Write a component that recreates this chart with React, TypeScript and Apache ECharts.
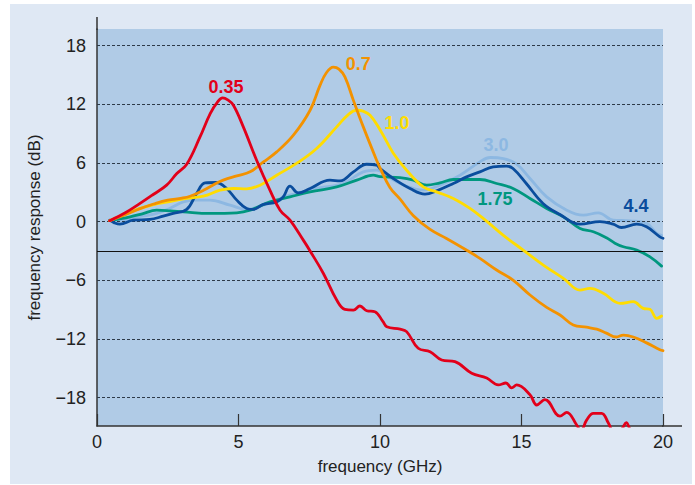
import React, { useEffect, useRef } from "react";
import * as echarts from "echarts";

// frequency (GHz), response (dB) pairs
const curve035: number[][] = [
  [0.45, 0.1], [1.0, 0.9], [1.52, 1.86], [2.0, 2.8], [2.46, 3.73], [2.82, 4.92], [3.17, 5.87],
  [3.64, 8.66], [4.0, 11.05], [4.25, 12.2], [4.44, 12.65], [4.62, 12.45], [4.82, 11.9], [5.17, 9.69],
  [5.64, 6.28], [6.11, 3.22], [6.47, 1.17], [6.82, 0.15], [7.29, -1.89], [7.53, -3.0], [8.0, -5.3],
  [8.47, -8.02], [8.76, -8.97], [9.06, -9.04], [9.29, -8.63], [9.53, -9.11], [9.82, -9.21],
  [10.1, -10.2], [10.24, -10.75], [10.71, -11.0], [10.94, -11.25], [11.35, -12.95], [11.77, -13.3],
  [12.18, -14.15], [12.65, -14.32], [13.24, -15.5], [13.77, -16.0], [14.18, -16.7], [14.45, -16.5],
  [14.65, -17.0], [14.83, -16.7], [15.3, -17.7], [15.54, -18.75], [15.83, -18.2], [16.36, -19.9],
  [16.6, -19.5], [16.95, -20.8], [17.1, -21.4], [17.3, -20.3], [17.54, -19.6], [17.83, -19.6],
  [18.07, -20.6], [18.3, -21.8], [18.55, -21.2], [18.7, -20.55], [18.85, -21.3], [19.2, -22.5],
  [20.0, -23.0],
];
const curve07: number[][] = [
  [0.45, 0.1], [1.0, 0.7], [1.5, 1.3], [2.0, 1.8], [2.5, 2.2], [3.0, 2.4], [3.29, 2.6], [3.76, 3.2],
  [4.2, 3.9], [4.46, 4.24], [4.94, 4.68], [5.41, 5.09], [5.88, 6.1], [6.35, 7.13], [6.94, 8.84],
  [7.53, 11.39], [7.88, 13.94], [8.1, 15.2], [8.35, 15.8], [8.55, 15.6], [8.76, 14.8], [9.06, 12.4],
  [9.41, 9.69], [9.88, 6.28], [10.0, 5.5], [10.35, 3.5], [10.71, 2.3], [11.18, 0.6], [11.77, -0.8],
  [12.35, -1.72], [13.05, -2.9], [13.53, -3.76], [14.12, -4.95], [14.7, -5.98], [15.3, -7.5],
  [15.89, -8.77], [16.36, -9.55], [16.83, -10.57], [17.3, -10.8], [17.66, -11.0], [18.0, -11.4],
  [18.35, -11.8], [18.6, -11.6], [18.95, -11.8], [19.42, -12.4], [19.89, -13.1], [20.0, -13.2],
];
const curve10: number[][] = [
  [0.45, 0.1], [1.0, 0.8], [1.52, 1.35], [2.0, 1.75], [2.46, 2.0], [3.17, 2.37], [3.76, 2.6],
  [4.35, 3.22], [4.82, 3.39], [5.29, 3.35], [5.76, 3.73], [6.35, 4.75], [7.05, 5.95], [7.76, 7.48],
  [8.47, 9.69], [8.9, 11.0], [9.18, 11.39], [9.4, 11.3], [9.65, 10.88], [10.0, 9.4], [10.47, 7.0],
  [10.94, 5.26], [11.53, 3.55], [12.0, 3.04], [12.59, 2.37], [13.18, 1.35], [13.7, 0.2],
  [14.36, -1.4], [15.06, -2.91], [15.77, -4.44], [16.48, -5.8], [17.07, -7.0], [17.42, -6.82],
  [17.89, -7.33], [18.49, -8.36], [18.95, -8.19], [19.3, -8.87], [19.54, -8.97], [19.78, -9.89],
  [19.95, -9.65],
];
const curve175: number[][] = [
  [0.45, 0.1], [1.17, 0.49], [1.6, 0.8], [2.11, 1.17], [2.6, 1.1], [3.05, 1.0], [3.99, 0.84],
  [4.94, 0.9], [5.41, 1.17], [6.11, 2.02], [6.82, 2.53], [7.53, 3.04], [8.47, 3.55], [9.18, 4.24],
  [9.76, 4.75], [10.0, 4.6], [10.71, 4.5], [11.18, 4.24], [11.65, 3.73], [12.12, 3.97],
  [12.59, 4.31], [13.53, 4.31], [14.12, 3.9], [14.7, 3.39], [15.3, 2.37], [15.89, 1.35],
  [16.48, 0.49], [17.07, -0.7], [17.54, -1.04], [18.0, -1.65], [18.3, -2.2], [18.6, -2.57],
  [19.07, -2.91], [19.54, -3.6], [19.95, -4.55],
];
const curve30: number[][] = [
  [0.45, 0.1], [0.93, 0.15], [1.5, 0.5], [2.11, 0.84], [2.6, 1.4], [3.05, 2.02], [3.5, 2.2],
  [3.99, 2.2], [4.7, 1.69], [5.29, 1.25], [5.88, 1.69], [6.82, 2.71], [7.76, 3.39], [8.7, 3.9],
  [9.41, 5.09], [9.88, 5.26], [10.29, 4.58], [10.71, 3.9], [11.53, 3.22], [12.12, 3.73],
  [12.83, 4.75], [13.53, 6.11], [13.89, 6.56], [14.36, 6.45], [14.83, 5.87], [15.3, 4.41],
  [15.89, 2.53], [16.6, 1.17], [17.18, 0.66], [17.71, 0.9], [18.24, 0.15], [18.83, 0.08],
  [19.42, -0.18], [19.78, -1.2], [19.95, -1.4],
];
const curve44: number[][] = [
  [0.45, 0.15], [0.6, -0.1], [0.81, -0.26], [1.28, 0.15], [1.87, 0.22], [2.34, 0.56], [2.69, 0.84],
  [3.17, 1.25], [3.52, 2.88], [3.82, 3.97], [4.21, 4.0], [4.58, 3.39], [4.94, 2.2], [5.29, 1.35],
  [5.52, 1.25], [5.88, 1.76], [6.35, 2.02], [6.58, 2.53], [6.82, 3.63], [7.11, 2.94], [7.53, 3.39],
  [8.23, 4.24], [8.59, 4.17], [9.06, 5.09], [9.53, 5.87], [9.88, 5.77], [10.0, 5.43], [10.47, 4.41],
  [11.06, 3.39], [11.59, 2.81], [12.0, 3.15], [12.59, 3.9], [13.06, 4.58], [13.53, 5.09],
  [14.0, 5.6], [14.47, 5.67], [14.7, 5.43], [15.17, 3.9], [15.76, 1.86], [16.36, 0.73],
  [17.07, -0.26], [17.77, 0.0], [18.24, -0.26], [18.53, -0.6], [19.07, -0.26], [19.42, -0.53],
  [19.89, -1.55], [20.0, -1.7],
];

const curveNames = ["3.0", "1.75", "4.4", "1.0", "0.7", "0.35"];
const curveColors = ["#8db8e2", "#00977f", "#0a4d9d", "#ffdc00", "#f39200", "#e2001a"];
const curveData = [curve30, curve175, curve44, curve10, curve07, curve035];
// label anchor positions [GHz, dB]
const labelAt: number[][] = [
  [14.1, 7.8], [14.06, 2.3], [19.05, 1.6], [10.6, 10.1], [9.23, 16.15], [4.56, 13.75],
];

const yTicks = [-18, -12, -6, 0, 6, 12, 18];
const xTicks = [0, 5, 10, 15, 20];
const cutoffDb = -3;

const FONT = "'Liberation Sans', Arial, sans-serif";

export default function App() {
  const ref = useRef<HTMLDivElement>(null);
  useEffect(() => {
    if (!ref.current) return;
    const chart = echarts.init(ref.current, null, { renderer: "svg" });
    const series: any[] = [
      {
        type: "line",
        name: "grid",
        data: [],
        z: 1,
        silent: true,
        markLine: {
          silent: true,
          symbol: ["none", "none"],
          animation: false,
          label: { show: false },
          data: [
            ...yTicks.map((v) => ({
              yAxis: v,
              lineStyle: { color: "#2d3a48", width: 1, type: [3, 2] },
            })),
            { yAxis: cutoffDb, lineStyle: { color: "#111", width: 1, type: "solid" } },
          ],
        },
      },
    ];
    curveData.forEach((d, i) => {
      series.push({
        type: "line",
        name: curveNames[i],
        data: d,
        showSymbol: false,
        symbol: "none",
        smooth: 0.4,
        clip: true,
        z: 3 + i,
        lineStyle: { color: curveColors[i], width: 2.8, join: "round", cap: "round" },
        itemStyle: { color: curveColors[i] },
        markPoint: {
          symbol: "circle",
          symbolSize: 1,
          itemStyle: { color: "rgba(0,0,0,0)" },
          animation: false,
          data: [
            {
              coord: labelAt[i],
              label: {
                show: true,
                position: "inside",
                formatter: curveNames[i],
                color: curveColors[i],
                fontWeight: "bold",
                fontSize: 18,
                fontFamily: FONT,
              },
            },
          ],
        },
      });
    });
    chart.setOption({
      animation: false,
      backgroundColor: "transparent",
      grid: {
        left: 97,
        top: 29,
        right: 32,
        bottom: 59,
        show: true,
        backgroundColor: "#b0cbe6",
        borderWidth: 0,
      },
      xAxis: {
        type: "value",
        min: 0,
        max: 20,
        interval: 5,
        name: "frequency (GHz)",
        nameLocation: "middle",
        nameGap: 32,
        nameTextStyle: { fontSize: 17, color: "#222", fontFamily: FONT },
        axisLine: { show: true, onZero: false, lineStyle: { color: "#333", width: 1.5 } },
        axisTick: { show: true, inside: true, length: 12, lineStyle: { color: "#333", width: 1.2 } },
        axisLabel: {
          fontSize: 18,
          color: "#222",
          margin: 7,
          fontFamily: FONT,
          customValues: xTicks,
        },
        splitLine: { show: false },
      },
      yAxis: {
        type: "value",
        min: -20.9,
        max: 19.7,
        name: "frequency response (dB)",
        nameLocation: "middle",
        nameGap: 54,
        nameTextStyle: { fontSize: 17, color: "#222", fontFamily: FONT },
        axisLine: { show: true, onZero: false, lineStyle: { color: "#333", width: 1.5 } },
        axisTick: { show: false },
        axisLabel: {
          fontSize: 18,
          color: "#222",
          margin: 11,
          fontFamily: FONT,
          customValues: yTicks,
          formatter: (v: number) => (v < 0 ? "\u2212" + Math.abs(v) : String(v)),
        },
        splitLine: { show: false },
      },
      graphic: [
        {
          type: "line",
          shape: { x1: 97, y1: 17, x2: 97, y2: 30 },
          style: { stroke: "#333", lineWidth: 1.5 },
          silent: true,
        },
        {
          type: "line",
          shape: { x1: 662, y1: 426, x2: 682, y2: 426 },
          style: { stroke: "#333", lineWidth: 1.5 },
          silent: true,
        },
      ],
      series,
    });
    return () => chart.dispose();
  }, []);
  return (
    <div style={{ position: "absolute", left: 0, top: 0, width: 695, height: 485, background: "#ffffff" }}>
      <div
        style={{
          position: "absolute",
          left: 10,
          top: 4,
          width: 682,
          height: 480,
          background: "#dfe8f4",
        }}
      />
      <div ref={ref} style={{ position: "absolute", left: 0, top: 0, width: 695, height: 485 }} />
    </div>
  );
}
